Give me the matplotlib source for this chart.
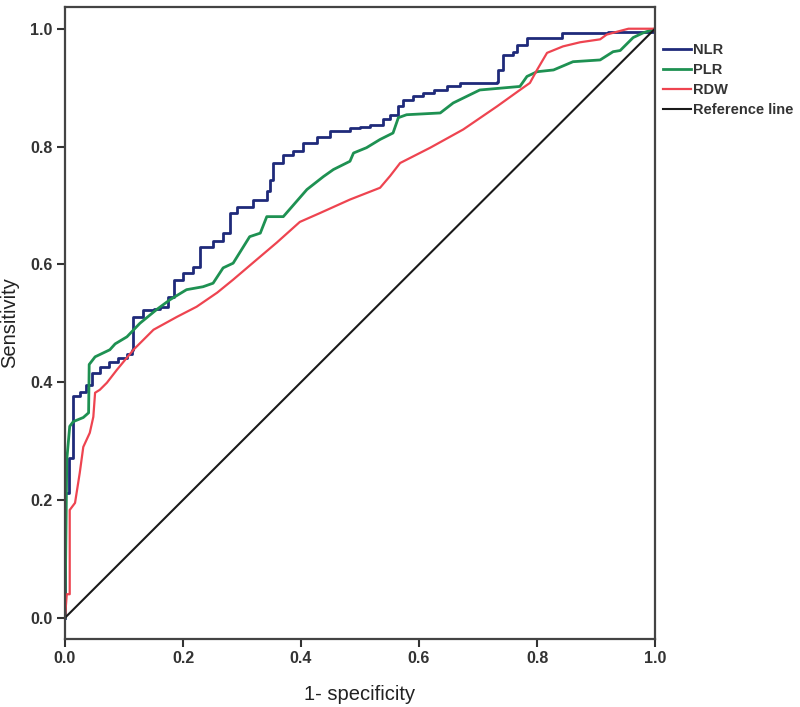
import matplotlib
matplotlib.use("Agg")
import matplotlib.pyplot as plt

# === ROC 数据 ===
nlr_x = [0.0, 0.0, 0.006, 0.006, 0.014, 0.025, 0.035, 0.045, 0.06, 0.075, 0.09, 0.105, 0.113,
         0.116, 0.133, 0.15, 0.161, 0.175, 0.184, 0.2, 0.217, 0.229, 0.251, 0.268, 0.28,
         0.291, 0.319, 0.342, 0.347, 0.353, 0.37, 0.387, 0.404, 0.427, 0.449, 0.483, 0.5,
         0.517, 0.539, 0.551, 0.565, 0.573, 0.59, 0.607, 0.625, 0.647, 0.669, 0.732, 0.734,
         0.742, 0.76, 0.766, 0.783, 0.842, 0.92, 1.0]
nlr_y = [0.0, 0.212, 0.212, 0.272, 0.376, 0.384, 0.395, 0.416, 0.425, 0.435, 0.441, 0.447, 0.455,
         0.51, 0.523, 0.525, 0.528, 0.545, 0.574, 0.585, 0.596, 0.63, 0.639, 0.653, 0.687,
         0.698, 0.71, 0.724, 0.744, 0.772, 0.786, 0.792, 0.806, 0.817, 0.826, 0.832, 0.834,
         0.837, 0.846, 0.854, 0.868, 0.879, 0.885, 0.891, 0.896, 0.902, 0.908, 0.91, 0.93,
         0.956, 0.961, 0.973, 0.985, 0.993, 0.995, 1.0]

plr_x = [0.0, 0.003, 0.008, 0.014, 0.031, 0.04, 0.041, 0.051, 0.076, 0.085, 0.105, 0.127,
         0.155, 0.178, 0.206, 0.234, 0.251, 0.268, 0.285, 0.313, 0.331, 0.342, 0.37, 0.41,
         0.438, 0.455, 0.483, 0.489, 0.511, 0.534, 0.556, 0.565, 0.579, 0.636, 0.658, 0.703,
         0.771, 0.783, 0.8, 0.828, 0.861, 0.907, 0.929, 0.941, 0.963, 0.98, 1.0]
plr_y = [0.0, 0.268, 0.325, 0.333, 0.34, 0.348, 0.43, 0.443, 0.455, 0.465, 0.477, 0.5,
         0.523, 0.54, 0.557, 0.562, 0.568, 0.594, 0.602, 0.647, 0.653, 0.681, 0.681, 0.727,
         0.749, 0.761, 0.775, 0.789, 0.798, 0.812, 0.823, 0.849, 0.854, 0.857, 0.874, 0.896,
         0.902, 0.919, 0.927, 0.93, 0.944, 0.947, 0.961, 0.963, 0.985, 0.993, 1.0]

rdw_x = [0.0, 0.003, 0.008, 0.008, 0.017, 0.025, 0.031, 0.042, 0.048, 0.051, 0.059, 0.071,
         0.088, 0.116, 0.15, 0.19, 0.223, 0.258, 0.285, 0.319, 0.359, 0.398, 0.432, 0.483,
         0.534, 0.551, 0.568, 0.619, 0.675, 0.732, 0.771, 0.788, 0.8, 0.817, 0.844, 0.873,
         0.907, 0.918, 0.936, 0.955, 1.0]
rdw_y = [0.0, 0.04, 0.04, 0.183, 0.195, 0.246, 0.29, 0.314, 0.341, 0.382, 0.387, 0.399,
         0.421, 0.455, 0.489, 0.511, 0.528, 0.552, 0.574, 0.603, 0.637, 0.672, 0.687, 0.71,
         0.73, 0.75, 0.772, 0.798, 0.829, 0.868, 0.896, 0.908, 0.93, 0.959, 0.97, 0.977,
         0.982, 0.99, 0.995, 1.0, 1.0]

ref_x = [0.0, 1.0]
ref_y = [0.0, 1.0]

labels = ["NLR", "PLR", "RDW", "Reference line"]
colors = ["#1f2a7a", "#1e9152", "#ee4450", "#1a1a1a"]
tick_vals = [0.0, 0.2, 0.4, 0.6, 0.8, 1.0]
tick_text = ["0.0", "0.2", "0.4", "0.6", "0.8", "1.0"]

plt.rcParams["font.family"] = ["Liberation Sans", "DejaVu Sans"]

fig = plt.figure(figsize=(8, 7.07), dpi=100)
ax = fig.add_axes([0.08125, 0.0962, 0.7375, 0.894])

# NLR 是阶梯状
ax.plot(nlr_x, nlr_y, color=colors[0], lw=2.0, drawstyle="steps-post", label=labels[0])
ax.plot(plr_x, plr_y, color=colors[1], lw=2.0, label=labels[1])
ax.plot(rdw_x, rdw_y, color=colors[2], lw=1.6, label=labels[2])
ax.plot(ref_x, ref_y, color=colors[3], lw=1.5, label=labels[3])

ax.set_xlim(0, 1.0)
ax.set_ylim(-0.036, 1.037)
ax.set_xticks(tick_vals)
ax.set_yticks(tick_vals)
ax.set_xticklabels(tick_text, fontweight="bold")
ax.set_yticklabels(tick_text, fontweight="bold")
ax.tick_params(direction="out", length=6, width=1.5, color="#333333",
               labelsize=11.5, labelcolor="#333333", pad=3)

for s in ax.spines.values():
    s.set_color("#444444")
    s.set_linewidth(1.6)

ax.set_xlabel("1- specificity", fontsize=14.5, color="#222222", labelpad=13)
ax.set_ylabel("Sensitivity", fontsize=14.5, color="#222222", labelpad=8)

leg = fig.legend(loc="upper left", bbox_to_anchor=(0.822, 0.947), frameon=False,
                 fontsize=10.5, handlelength=1.9, handletextpad=0.1, labelspacing=0.4,
                 borderaxespad=0, prop={"weight": "bold", "size": 10.5})
for t in leg.get_texts():
    t.set_color("#333333")

fig.savefig("out.png", dpi=100)
